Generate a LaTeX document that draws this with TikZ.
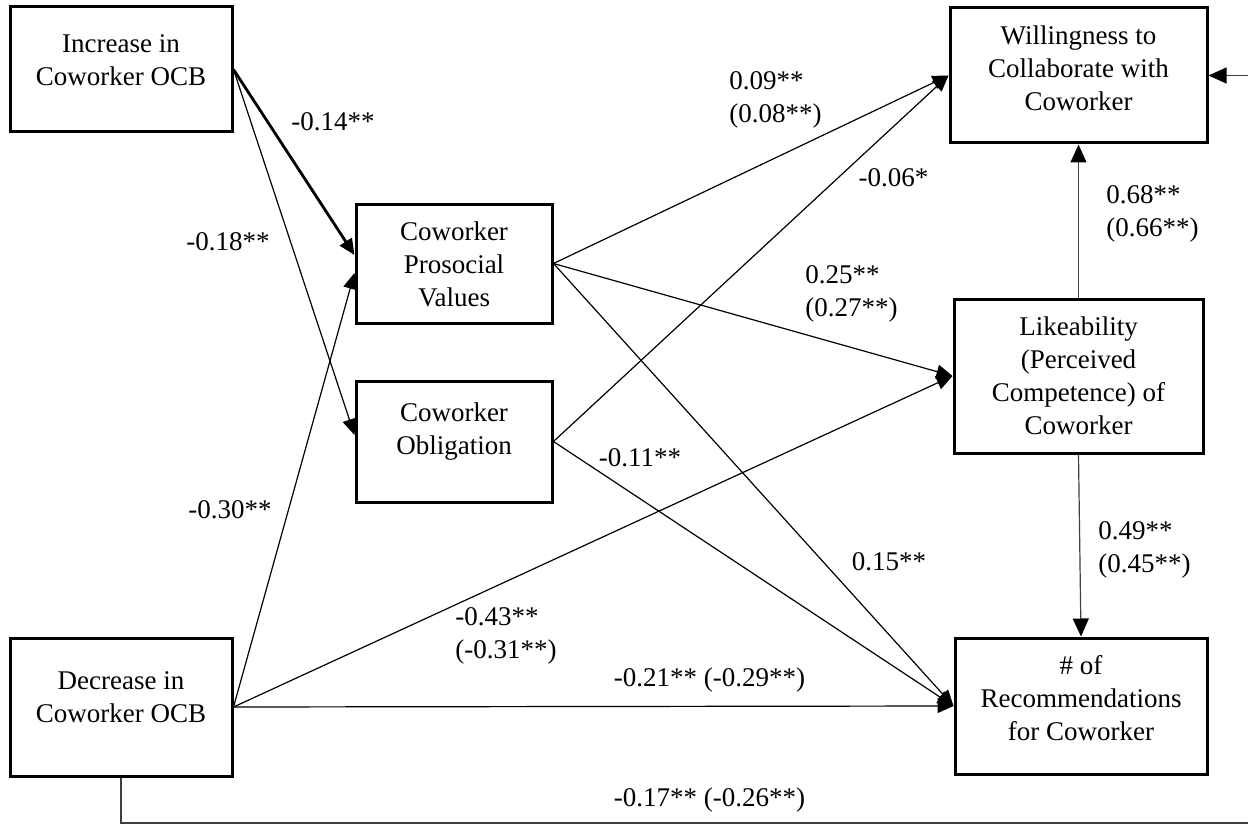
\documentclass[tikz,border=0pt]{standalone}
\usepackage{fontspec}
\setmainfont{Liberation Serif}
\usetikzlibrary{arrows.meta,calc}
\begin{document}
\begin{tikzpicture}[x=0.5pt,y=-0.5pt,
  box/.style={draw,line width=1.5pt,inner sep=0pt},
  txt/.style={font=\fontsize{13.5}{16.5}\selectfont,align=center,inner sep=0pt},
  lbl/.style={font=\fontsize{13.5}{16.5}\selectfont,align=left,inner sep=0pt},
  conn/.style={line width=0.6pt,-{Triangle[length=8pt,width=7pt]}},
  thickconn/.style={line width=1.4pt,-{Triangle[length=8pt,width=7pt]}},
  grayconn/.style={line width=0.6pt,draw=black!75,-{Triangle[length=9pt,width=8pt,color=black]}}]
\fill[white] (0,0) rectangle (1248,824);
\useasboundingbox (0,0) rectangle (1248,824);

% boxes
\node[box,minimum width=111pt,minimum height=62.5pt] (inc) at (121,69.5) {};
\node[box,minimum width=111pt,minimum height=69pt] (dec) at (121,707) {};
\node[box,minimum width=98pt,minimum height=59.5pt] (pro) at (454,263.5) {};
\node[box,minimum width=98pt,minimum height=60.5pt] (obl) at (454,441.5) {};
\node[box,minimum width=128.5pt,minimum height=67.5pt] (will) at (1078.5,75.5) {};
\node[box,minimum width=124.5pt,minimum height=77pt] (like) at (1078.5,376) {};
\node[box,minimum width=126pt,minimum height=68pt] (rec) at (1081,706) {};

% box texts
\node[txt] (inct) at ($(inc.center)+(0,-9.5)$) {Increase in\\Coworker OCB};
\node[txt] (dect) at ($(dec.center)+(0,-9.5)$) {Decrease in\\Coworker OCB};
\node[txt] (prot) at ($(pro.center)+(0,1)$) {Coworker\\Prosocial\\Values};
\node[txt] (oblt) at ($(obl.center)+(0,-10)$) {Coworker\\Obligation};
\node[txt] (willt) at ($(will.center)+(0,-7.5)$) {Willingness to\\Collaborate with\\Coworker};
\node[txt] (liket) at ($(like.center)+(0,0)$) {Likeability\\(Perceived\\Competence) of\\Coworker};
\node[txt] (rect) at ($(rec.center)+(0,-8)$) {\# of\\Recommendations\\for Coworker};

% connectors
\draw[thickconn] (inc.east) -- ($(pro.west)+(0,-8.5)$);
\draw[conn] (inc.east) -- ($(obl.west)+(0,-6.5)$);
\draw[conn] (dec.east) -- ($(pro.west)+(0,9.5)$);
\draw[conn] (dec.east) -- (like.west);
\draw[conn] (dec.east) -- (rec.west);
\draw[conn] (pro.east) -- (will.west);
\draw[conn] (obl.east) -- (will.west);
\draw[conn] (pro.east) -- (like.west);
\draw[conn] (pro.east) -- (rec.west);
\draw[conn] (obl.east) -- (rec.west);
\draw[grayconn] (like.north) -- (will.south);
\draw[grayconn] (like.south) -- (rec.north);
\coordinate (corner) at (1262,823);
\draw[grayconn] (dec.south) |- (corner) |- (will.east);

% labels
\node[lbl] (l14) at (333,122) {-0.14**};
\node[lbl] (l18) at (228,242) {-0.18**};
\node[lbl] (l30) at (230,510) {-0.30**};
\node[lbl,anchor=west] (l09) at (729,99.5) {0.09**\\(0.08**)};
\node[lbl] (l06) at (893.5,178) {-0.06*};
\node[lbl,anchor=west] (l25) at (805,294) {0.25**\\(0.27**)};
\node[lbl] (l11) at (640,458) {-0.11**};
\node[lbl] (l15) at (889,562) {0.15**};
\node[lbl,anchor=west] (l43) at (455,635.5) {-0.43**\\(-0.31**)};
\node[lbl] (l21) at (709.5,680) {-0.21** (-0.29**)};
\node[lbl] (l17) at (709.5,800) {-0.17** (-0.26**)};
\node[lbl,anchor=west] (l68) at (1106,213.5) {0.68**\\(0.66**)};
\node[lbl,anchor=west] (l49) at (1098,549.5) {0.49**\\(0.45**)};
\end{tikzpicture}
\end{document}
